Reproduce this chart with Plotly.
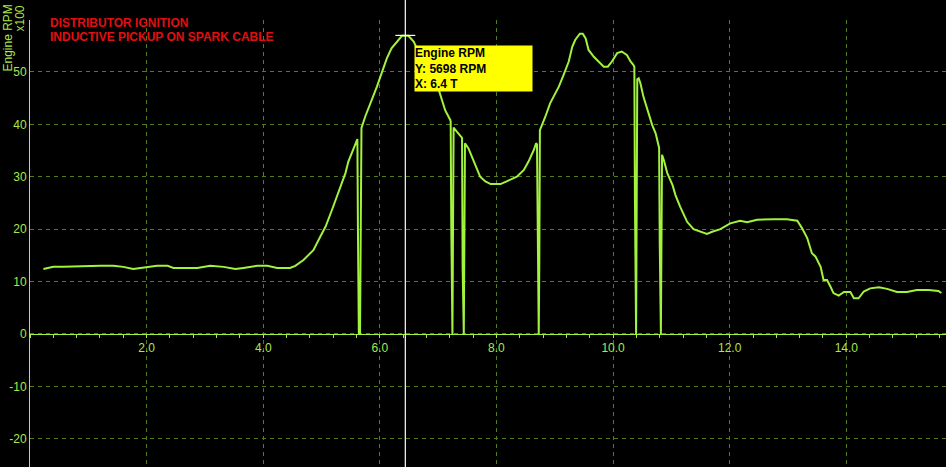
import plotly.graph_objects as go

# ---- data (time in T, engine rpm in x100) ----
time_t = [0.23, 0.40, 0.57, 0.78, 0.86, 1.21, 1.43, 1.60, 1.77, 1.95, 2.18, 2.36, 2.46, 2.87, 3.09,
          3.32, 3.52, 3.66, 3.90, 4.07, 4.24, 4.46, 4.55, 4.69, 4.86, 4.98, 5.07, 5.18, 5.32, 5.41,
          5.46, 5.52, 5.61, 5.615, 5.625, 5.64, 5.66, 5.675, 5.685,
          5.75, 5.81, 5.89, 5.95, 6.01, 6.07, 6.12, 6.20, 6.29, 6.38, 6.49, 6.58, 6.70, 6.85,
          7.01, 7.07, 7.12, 7.21, 7.215, 7.225, 7.235, 7.245, 7.255, 7.265,
          7.32, 7.38, 7.40, 7.41, 7.42, 7.43, 7.44, 7.45, 7.46,
          7.52, 7.58, 7.64, 7.72, 7.81, 7.90, 8.07, 8.24, 8.35, 8.47, 8.55, 8.64, 8.68,
          8.695, 8.705, 8.715, 8.725, 8.735, 8.745,
          8.84, 8.92, 8.98, 9.07, 9.15, 9.24, 9.30, 9.35, 9.43, 9.48, 9.53, 9.58, 9.67, 9.75,
          9.84, 9.91, 9.98, 10.07, 10.15, 10.24, 10.30, 10.35,
          10.365, 10.375, 10.385, 10.395, 10.405, 10.415, 10.44,
          10.47, 10.52, 10.58, 10.67, 10.73, 10.78,
          10.79, 10.80, 10.81, 10.82, 10.83, 10.84,
          10.87, 10.93, 11.02, 11.07, 11.15, 11.27, 11.38, 11.49, 11.61, 11.70, 11.84, 12.01,
          12.18, 12.30, 12.47, 12.75, 12.98, 13.16, 13.24, 13.33, 13.41, 13.47, 13.56, 13.61,
          13.67, 13.73, 13.78, 13.87, 13.96, 14.07, 14.13, 14.21, 14.30, 14.41, 14.56, 14.70,
          14.87, 15.04, 15.21, 15.41, 15.58, 15.63]

rpm_x100 = [12.4, 12.8, 12.8, 12.9, 12.8, 13.0, 13.0, 12.8, 12.4, 12.6, 13.0, 13.0, 12.6, 12.6, 13.0,
            12.8, 12.4, 12.6, 13.0, 13.0, 12.6, 12.6, 13.0, 14.1, 16.0, 18.6, 20.5, 23.7, 28.1, 30.7,
            32.9, 34.5, 37.0, 37.2, 19.0, 0.0, 0.0, 19.5, 39.3,
            41.5, 43.1, 45.3, 47.2, 49.1, 51.0, 52.6, 54.5, 55.8, 56.9, 56.9, 55.8, 53.0, 49.5,
            46.6, 44.7, 42.7, 40.8, 40.5, 20.5, 0.0, 0.0, 20.0, 39.4,
            38.6, 37.8, 37.6, 37.4, 12.6, 0.0, 0.0, 18.3, 36.4,
            35.4, 33.8, 31.9, 30.0, 29.1, 28.6, 28.6, 29.4, 30.0, 31.3, 32.9, 35.1, 36.4,
            36.2, 18.3, 0.0, 0.0, 13.2, 38.9,
            41.5, 44.0, 45.3, 47.2, 49.4, 52.0, 54.8, 56.1, 57.3, 57.3, 56.4, 54.2, 52.9, 52.0,
            51.0, 51.0, 52.0, 53.6, 53.9, 53.2, 52.0, 51.3,
            51.0, 25.6, 0.0, 0.0, 24.6, 48.6, 48.8,
            47.8, 45.3, 43.1, 39.9, 38.3, 35.7,
            35.5, 17.9, 0.0, 0.0, 17.3, 34.2,
            33.2, 30.7, 28.4, 26.5, 24.3, 21.4, 20.0, 19.5, 19.1, 19.5, 20.0, 21.1,
            21.6, 21.3, 21.8, 21.9, 21.9, 21.6, 20.2, 18.3, 15.4, 14.8, 12.8, 10.3,
            10.3, 9.0, 7.8, 7.3, 8.0, 8.0, 6.8, 6.8, 8.1, 8.7, 8.9, 8.6,
            8.0, 8.0, 8.4, 8.4, 8.2, 7.8]

x_tick_vals = [2, 4, 6, 8, 10, 12, 14]
x_tick_text = ["2.0", "4.0", "6.0", "8.0", "10.0", "12.0", "14.0"]
y_tick_vals = [-20, -10, 0, 10, 20, 30, 40, 50]
y_tick_text = ["-20", "-10", "0", "10", "20", "30", "40", "50"]

cursor_x = 6.437
cursor_y = 56.98
tooltip_lines = ["Engine RPM", "Y: 5698 RPM", "X: 6.4 T"]
title_lines = ["DISTRIBUTOR IGNITION", "INDUCTIVE PICKUP ON SPARK CABLE"]

X_RANGE = [0.0, 15.71]
Y_RANGE = [-25.4, 59.92]

LINE = "#a2f23e"
LABEL = "#a8e848"
GRID = "#4f7d1f"
FONT = "Liberation Sans, Arial, sans-serif"

W, H = 946, 467
ML, MT = 30, 20
PW, PH = W - ML, H - MT

fig = go.Figure()
fig.add_trace(go.Scatter(x=time_t, y=rpm_x100, mode="lines",
                         line=dict(color=LINE, width=2), hoverinfo="skip", showlegend=False))

zero_pos = (0 - Y_RANGE[0]) / (Y_RANGE[1] - Y_RANGE[0])


def px_x(p):  # pixel -> paper x
    return (p - ML) / PW


def px_y(p):  # pixel -> paper y
    return 1 - (p - MT) / PH


fig.update_layout(
    width=W, height=H,
    margin=dict(l=ML, r=0, t=MT, b=0, autoexpand=False),
    paper_bgcolor="black", plot_bgcolor="black",
    font=dict(family=FONT, color=LABEL, size=12),
    xaxis=dict(range=X_RANGE, anchor="free", position=zero_pos, automargin=False,
               tickvals=x_tick_vals, ticktext=x_tick_text,
               showline=True, linecolor=LINE, linewidth=1,
               ticks="outside", ticklen=3, tickcolor=LINE, tickwidth=1,
               minor=dict(dtick=0.4, tick0=0, ticks="outside", ticklen=3, tickcolor=LINE, showgrid=False),
               showgrid=True, gridcolor=GRID, griddash="4px,4px", gridwidth=1,
               zeroline=False, tickfont=dict(size=12, color=LABEL), fixedrange=True),
    yaxis=dict(range=Y_RANGE, tickvals=y_tick_vals, ticktext=y_tick_text, automargin=False,
               showline=True, linecolor=LINE, linewidth=1,
               ticks="", showgrid=True, gridcolor=GRID, griddash="4px,4px", gridwidth=1,
               zeroline=False, tickfont=dict(size=12, color=LABEL), fixedrange=True),
)

# cursor line and crosshair
fig.add_shape(type="line", xref="x", yref="paper", x0=cursor_x, x1=cursor_x, y0=0, y1=px_y(0),
              line=dict(color="white", width=1.2))
fig.add_shape(type="line", xref="x", yref="y", x0=cursor_x - 0.17, x1=cursor_x + 0.17,
              y0=cursor_y, y1=cursor_y, line=dict(color="white", width=1.2))

# tooltip box
fig.add_annotation(x=px_x(414), y=px_y(45), xref="paper", yref="paper",
                   xanchor="left", yanchor="top", text="<br>".join(tooltip_lines),
                   showarrow=False, align="left", valign="top", width=117, borderpad=0,
                   bgcolor="#ffff00",
                   font=dict(family=FONT, size=12, color="black", weight="bold"))

# red titles
for i, t in enumerate(title_lines):
    fig.add_annotation(x=px_x(48), y=px_y(23 + 14 * i), xref="paper", yref="paper",
                       xanchor="left", yanchor="middle", text=t, showarrow=False,
                       font=dict(family=FONT, size=12, color="#e01010", weight="bold"))

# y-axis titles
fig.add_annotation(x=px_x(8), y=px_y(38.5), xref="paper", yref="paper",
                   text="Engine RPM", textangle=-90, showarrow=False,
                   xanchor="center", yanchor="middle", font=dict(family=FONT, size=12, color=LABEL))
fig.add_annotation(x=px_x(20), y=px_y(18.5), xref="paper", yref="paper",
                   text="x100", textangle=-90, showarrow=False,
                   xanchor="center", yanchor="middle", font=dict(family=FONT, size=12, color=LABEL))

fig.write_html("out.html", config={"displayModeBar": False},
               post_script="document.body.style.margin='0';document.body.style.padding='0';")
